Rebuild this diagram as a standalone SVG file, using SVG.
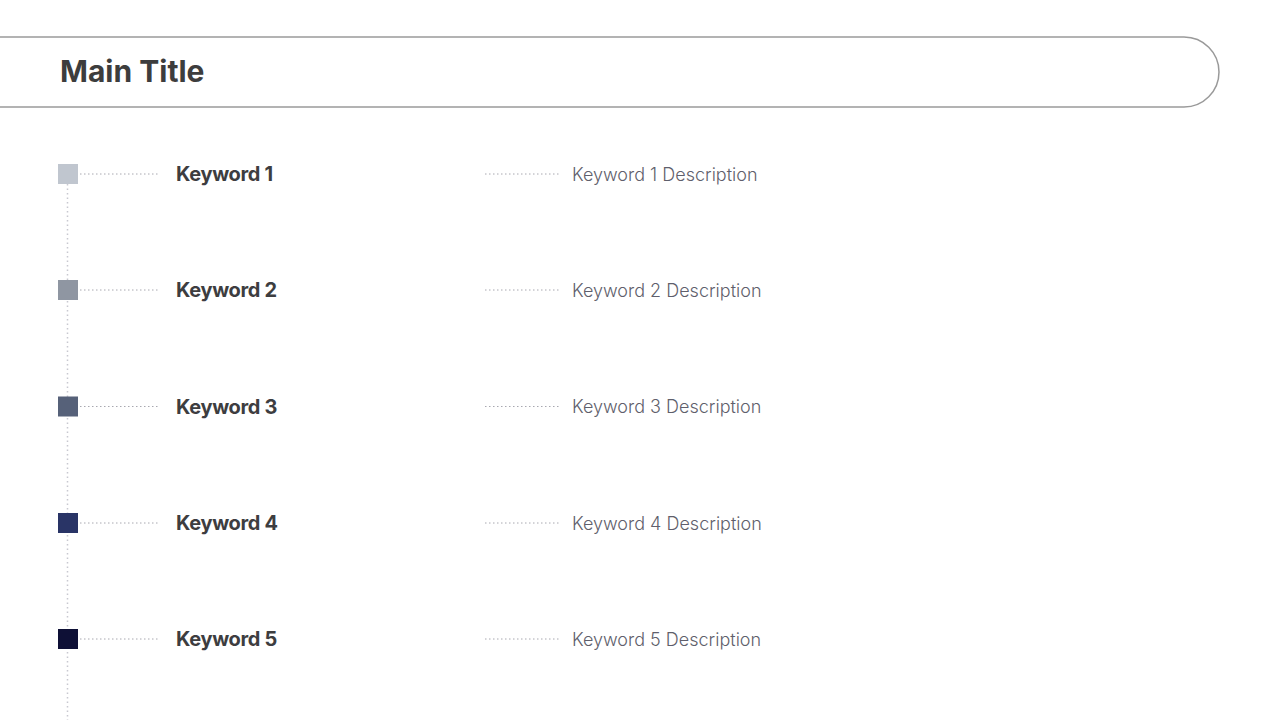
<svg xmlns="http://www.w3.org/2000/svg" width="1280" height="720" viewBox="0 0 1280 720">
<style>
.title{font-family:Inter,"Liberation Sans",sans-serif;font-weight:700;font-size:30px;fill:#3d3d3d}
.kw{font-family:Inter,"Liberation Sans",sans-serif;font-weight:700;font-size:20px;letter-spacing:-0.35px;fill:#3d3d40}
.desc{font-family:Inter,"Liberation Sans",sans-serif;font-weight:300;font-size:18px;fill:#5f5f6c}
.dot{stroke:#a8a8b0;stroke-width:1;stroke-dasharray:1.5 2.5;fill:none}
.vdot{stroke:#c8c8d0;stroke-width:1.5;stroke-dasharray:1.5 3;fill:none}
</style>
<rect width="1280" height="720" fill="#ffffff"/>
<g id="title-bar">
<path d="M-5 37 H1184 A35 35 0 0 1 1184 107 H-5" fill="none" stroke="#9a9a9a" stroke-width="1.5"/>
<text class="title" x="60" y="82">Main Title</text>
</g>
<g id="connectors">
<line class="vdot" x1="67.5" y1="184" x2="67.5" y2="720"/>
<line class="dot" x1="80" y1="174" x2="158" y2="174"/>
<line class="dot" x1="485" y1="174" x2="560" y2="174"/>
<line class="dot" x1="80" y1="290" x2="158" y2="290"/>
<line class="dot" x1="485" y1="290" x2="560" y2="290"/>
<line class="dot" x1="80" y1="406.5" x2="158" y2="406.5"/>
<line class="dot" x1="485" y1="406.5" x2="560" y2="406.5"/>
<line class="dot" x1="80" y1="523" x2="158" y2="523"/>
<line class="dot" x1="485" y1="523" x2="560" y2="523"/>
<line class="dot" x1="80" y1="639" x2="158" y2="639"/>
<line class="dot" x1="485" y1="639" x2="560" y2="639"/>
</g>
<g id="item1">
<rect x="58" y="164" width="20" height="20" fill="#c0c6cf"/>
<text class="kw" x="176" y="181">Keyword 1</text>
<text class="desc" x="572" y="180.5">Keyword 1 Description</text>
</g>
<g id="item2">
<rect x="58" y="280" width="20" height="20" fill="#8f96a2"/>
<text class="kw" x="176" y="297">Keyword 2</text>
<text class="desc" x="572" y="296.5">Keyword 2 Description</text>
</g>
<g id="item3">
<rect x="58" y="396.5" width="20" height="20" fill="#566179"/>
<text class="kw" x="176" y="413.5">Keyword 3</text>
<text class="desc" x="572" y="413">Keyword 3 Description</text>
</g>
<g id="item4">
<rect x="58" y="513" width="20" height="20" fill="#293466"/>
<text class="kw" x="176" y="530">Keyword 4</text>
<text class="desc" x="572" y="529.5">Keyword 4 Description</text>
</g>
<g id="item5">
<rect x="58" y="629" width="20" height="20" fill="#0e1036"/>
<text class="kw" x="176" y="646">Keyword 5</text>
<text class="desc" x="572" y="645.5">Keyword 5 Description</text>
</g>
</svg>
